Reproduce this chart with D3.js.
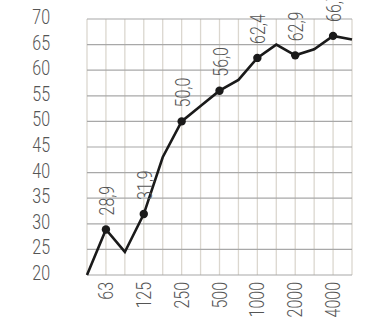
<!DOCTYPE html>
<html><head><meta charset="utf-8">
<script src="https://cdn.jsdelivr.net/npm/d3@7"></script>
<style>
html,body{margin:0;padding:0;background:#fff;overflow:hidden}
text{font-family:Roboto,"DejaVu Sans",sans-serif;font-weight:300;fill:#555}
</style></head>
<body><svg id="chart" width="373" height="323"></svg>
<script>
// Frequency bands (Hz); only octave bands are labelled
const categories = ["45","63","90","125","180","250","355","500","710","1000","1400","2000","2800","4000","5600"];
const tickLabels = ["63","125","250","500","1000","2000","4000"];
const values = [20, 28.9, 24.5, 31.9, 43.0, 50.0, 53.0, 56.0, 58.1, 62.4, 65.0, 62.9, 64.1, 66.7, 66.0];
const labelledPoints = ["63","125","250","500","1000","2000","4000"];
const yTicks = [20,25,30,35,40,45,50,55,60,65,70];

const svg = d3.select("#chart");
const x = d3.scalePoint().domain(categories).range([87, 352]);
const y = d3.scaleLinear().domain([20, 70]).range([275, 19]);
const fs = 19.5, sx = 0.82;
const fmt = v => d3.format(".1f")(v).replace(".", ",");

// vertical grid
svg.append("g").selectAll("line").data(categories).join("line")
  .attr("x1", d => x(d)).attr("x2", d => x(d))
  .attr("y1", y(20)).attr("y2", y(70))
  .attr("stroke", "#dbd7cf").attr("stroke-width", 1.3);
// horizontal grid
svg.append("g").selectAll("line").data(yTicks).join("line")
  .attr("x1", x(categories[0])).attr("x2", x(categories[categories.length-1]))
  .attr("y1", d => y(d)).attr("y2", d => y(d))
  .attr("stroke", "#a8a8a8").attr("stroke-width", 1.2);

// y tick labels
svg.append("g").selectAll("text").data(yTicks).join("text")
  .attr("transform", d => `translate(50,${y(d) + 5}) scale(${sx},1)`)
  .attr("text-anchor", "end").attr("font-size", fs).text(d => d);

// x tick labels
svg.append("g").selectAll("text").data(tickLabels).join("text")
  .attr("transform", d => `translate(${x(d) + 7},282) rotate(-90) scale(${sx},1)`)
  .attr("text-anchor", "end").attr("font-size", fs).text(d => d);

// line
const data = categories.map((c, i) => ({c, v: values[i]}));
svg.append("path").datum(data)
  .attr("d", d3.line().x(d => x(d.c)).y(d => y(d.v)))
  .attr("fill", "none").attr("stroke", "#1a1a1a").attr("stroke-width", 2.6)
  .attr("stroke-linejoin", "miter");

const pts = data.filter(d => labelledPoints.includes(d.c));
svg.append("g").selectAll("circle").data(pts).join("circle")
  .attr("cx", d => x(d.c)).attr("cy", d => y(d.v)).attr("r", 4.2).attr("fill", "#1a1a1a");

svg.append("g").selectAll("text").data(pts).join("text")
  .attr("transform", d => `translate(${x(d.c) + 8},${y(d.v) - 14}) rotate(-90) scale(${sx},1)`)
  .attr("text-anchor", "start").attr("font-size", fs).text(d => fmt(d.v));
</script></body></html>
